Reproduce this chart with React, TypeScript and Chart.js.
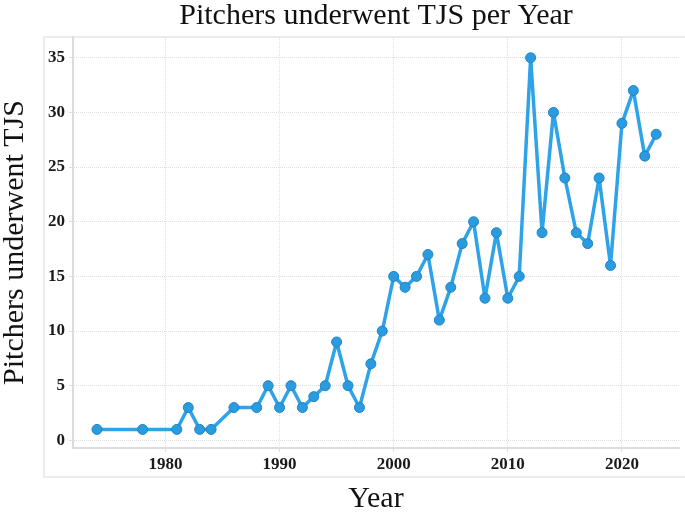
import React, { useEffect, useRef } from "react";
import { Chart, registerables } from "chart.js";

Chart.register(...registerables);

const years = [
  1974, 1978, 1981, 1982, 1983, 1984, 1986, 1988, 1989, 1990, 1991, 1992, 1993, 1994,
  1995, 1996, 1997, 1998, 1999, 2000, 2001, 2002, 2003, 2004, 2005, 2006, 2007, 2008,
  2009, 2010, 2011, 2012, 2013, 2014, 2015, 2016, 2017, 2018, 2019, 2020, 2021, 2022, 2023,
];
const tjsCounts = [
  1, 1, 1, 3, 1, 1, 3, 3, 5, 3, 5, 3, 4, 5,
  9, 5, 3, 7, 10, 15, 14, 15, 17, 11, 14, 18, 20, 13,
  19, 13, 15, 35, 19, 30, 24, 19, 18, 24, 16, 29, 32, 26, 28,
];
const xTicks = [1980, 1990, 2000, 2010, 2020];
const yTicks = [0, 5, 10, 15, 20, 25, 30, 35];

const FONT = "'Liberation Serif', 'Times New Roman', serif";
const GRID = "#dedede";

// light frame around the tick-label area, like the original plot
const framePlugin = {
  id: "frame",
  beforeDraw(chart: any) {
    const { ctx, chartArea } = chart;
    const left = chartArea.left - 29;
    const bottom = chartArea.bottom + 29;
    ctx.save();
    ctx.strokeStyle = "#e6e6e6";
    ctx.lineWidth = 1.5;
    ctx.beginPath();
    ctx.moveTo(chart.width, chartArea.top);
    ctx.lineTo(left, chartArea.top);
    ctx.lineTo(left, bottom);
    ctx.lineTo(chart.width, bottom);
    ctx.stroke();
    ctx.restore();
  },
};

const App = () => {
  const ref = useRef<HTMLCanvasElement | null>(null);

  useEffect(() => {
    document.body.style.margin = "0";
    if (!ref.current) return;

    const chart = new Chart(ref.current, {
      type: "line",
      data: {
        datasets: [
          {
            label: "Pitchers underwent TJS",
            data: years.map((y, i) => ({ x: y, y: tjsCounts[i] })),
            borderColor: "#2ea3e8",
            borderWidth: 3.5,
            borderJoinStyle: "round",
            borderCapStyle: "round",
            backgroundColor: "#2b9be0",
            pointBorderColor: "#2183c4",
            pointBorderWidth: 1,
            pointRadius: 5,
            tension: 0,
          },
        ],
      },
      options: {
        animation: false,
        responsive: false,
        layout: { padding: { right: 2 } },
        plugins: {
          legend: { display: false },
          tooltip: { enabled: false },
          title: {
            display: true,
            fullSize: false,
            text: "Pitchers underwent TJS per Year",
            color: "#111",
            font: { family: FONT, size: 30, weight: "normal", lineHeight: 1.1 },
            padding: { top: 0, bottom: 4 },
          },
        },
        scales: {
          x: {
            type: "linear",
            min: 1971.9,
            max: 2025,
            afterBuildTicks: (scale: any) => {
              scale.ticks = xTicks.map((v) => ({ value: v }));
            },
            afterFit: (scale: any) => {
              scale.height = 66;
            },
            grid: { color: GRID, tickLength: 4, tickColor: GRID },
            border: { color: "#dcdcdc", width: 2, dash: [1, 1] },
            ticks: {
              color: "#1a1a1a",
              padding: 2,
              maxRotation: 0,
              callback: (v: any) => String(v),
              font: { family: FONT, size: 17, weight: "bold" },
            },
            title: {
              display: true,
              text: "Year",
              color: "#111",
              font: { family: FONT, size: 30, weight: "normal", lineHeight: 1 },
              padding: 0,
            },
          },
          y: {
            min: -0.7,
            max: 36.9,
            afterBuildTicks: (scale: any) => {
              scale.ticks = yTicks.map((v) => ({ value: v }));
            },
            afterFit: (scale: any) => {
              scale.width = 73;
            },
            grid: { color: GRID, tickLength: 4, tickColor: GRID },
            border: { color: "#dcdcdc", width: 2, dash: [1, 1] },
            ticks: {
              color: "#1a1a1a",
              padding: 4,
              font: { family: FONT, size: 17, weight: "bold" },
            },
            title: {
              display: true,
              text: "Pitchers underwent TJS",
              color: "#111",
              font: { family: FONT, size: 30, weight: "normal", lineHeight: 1 },
              padding: 0,
            },
          },
        },
      },
      plugins: [framePlugin],
    });

    return () => chart.destroy();
  }, []);

  return (
    <div style={{ width: 685, height: 514 }}>
      <canvas ref={ref} width={685} height={514} />
    </div>
  );
};

export default App;
